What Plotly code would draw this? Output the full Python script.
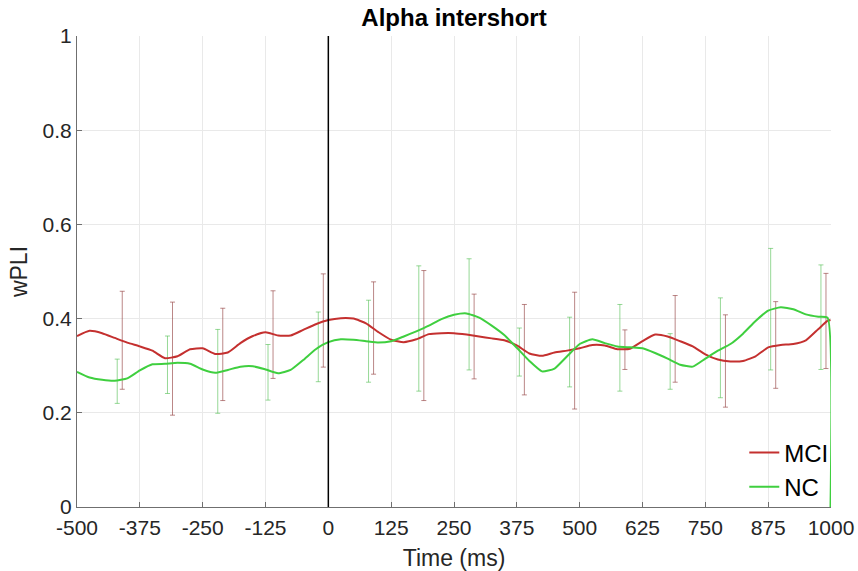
import plotly.graph_objects as go

# ---- data ----
time_ms = [-500, -475, -450, -425, -400, -375, -350, -325, -300, -275, -250, -225, -200,
           -175, -150, -125, -100, -75, -50, -25, 0, 25, 50, 75, 100, 125, 150, 175, 200,
           225, 250, 275, 300, 325, 350, 375, 400, 425, 450, 475, 500, 525, 550, 575, 600,
           625, 650, 675, 700, 725, 750, 775, 800, 825, 850, 875, 900, 925, 950, 975, 993, 999]

mci_wpli = [0.363, 0.374, 0.369, 0.359, 0.349, 0.341, 0.332, 0.316, 0.320, 0.335, 0.337, 0.325, 0.328,
            0.348, 0.363, 0.371, 0.364, 0.364, 0.376, 0.388, 0.397, 0.401, 0.400, 0.390, 0.371, 0.355,
            0.350, 0.356, 0.367, 0.369, 0.369, 0.366, 0.362, 0.358, 0.354, 0.343, 0.326, 0.321, 0.328,
            0.332, 0.337, 0.344, 0.343, 0.335, 0.336, 0.352, 0.366, 0.362, 0.352, 0.341, 0.324, 0.313,
            0.309, 0.310, 0.320, 0.339, 0.344, 0.346, 0.354, 0.378, 0.395, 0.397]

nc_wpli = [0.287, 0.275, 0.270, 0.268, 0.273, 0.290, 0.303, 0.304, 0.306, 0.304, 0.292, 0.285, 0.291,
           0.298, 0.299, 0.292, 0.284, 0.291, 0.312, 0.335, 0.350, 0.356, 0.355, 0.352, 0.349, 0.352,
           0.362, 0.373, 0.385, 0.399, 0.408, 0.411, 0.402, 0.385, 0.365, 0.338, 0.310, 0.288, 0.294,
           0.320, 0.346, 0.356, 0.348, 0.341, 0.339, 0.337, 0.327, 0.315, 0.302, 0.298, 0.315, 0.332,
           0.346, 0.368, 0.395, 0.417, 0.424, 0.420, 0.409, 0.404, 0.402, 0.0]

mci_bar_time = [-410, -310, -210, -110, -10, 90, 190, 290, 390, 490, 590, 690, 790, 890, 990]
mci_bar_mean = [0.354, 0.315, 0.324, 0.366, 0.396, 0.380, 0.364, 0.362, 0.334, 0.332, 0.334, 0.357, 0.310, 0.344, 0.395]
mci_bar_err = [0.104, 0.120, 0.098, 0.093, 0.099, 0.098, 0.138, 0.090, 0.096, 0.124, 0.042, 0.092, 0.098, 0.092, 0.101]

nc_bar_time = [-420, -320, -220, -120, -20, 80, 180, 280, 380, 480, 580, 680, 780, 880, 980]
nc_bar_mean = [0.267, 0.302, 0.288, 0.286, 0.340, 0.352, 0.379, 0.409, 0.329, 0.329, 0.338, 0.309, 0.338, 0.420, 0.403]
nc_bar_err = [0.047, 0.061, 0.089, 0.059, 0.074, 0.087, 0.133, 0.118, 0.051, 0.074, 0.092, 0.059, 0.106, 0.129, 0.111]

x_ticks = [-500, -375, -250, -125, 0, 125, 250, 375, 500, 625, 750, 875, 1000]
y_ticks = [0, 0.2, 0.4, 0.6, 0.8, 1]
y_tick_labels = ["0", "0.2", "0.4", "0.6", "0.8", "1"]

# ---- styles ----
MCI_LINE = "#c4302f"
NC_LINE = "#3fcf3f"
MCI_BAR = "rgba(150,70,70,0.65)"
NC_BAR = "rgba(80,190,80,0.6)"
FONT = "Liberation Sans, Arial, Helvetica, sans-serif"

fig = go.Figure()

fig.add_trace(go.Scatter(
    x=mci_bar_time, y=mci_bar_mean, mode="markers",
    marker=dict(size=0.1, color="rgba(0,0,0,0)"),
    error_y=dict(type="data", array=mci_bar_err, color=MCI_BAR, thickness=1, width=2.5),
    showlegend=False, hoverinfo="skip"))
fig.add_trace(go.Scatter(
    x=nc_bar_time, y=nc_bar_mean, mode="markers",
    marker=dict(size=0.1, color="rgba(0,0,0,0)"),
    error_y=dict(type="data", array=nc_bar_err, color=NC_BAR, thickness=1, width=2.5),
    showlegend=False, hoverinfo="skip"))

fig.add_trace(go.Scatter(
    x=time_ms, y=mci_wpli, mode="lines", name="MCI",
    line=dict(color=MCI_LINE, width=2, shape="spline", smoothing=0.5, simplify=False)))
fig.add_trace(go.Scatter(
    x=time_ms, y=nc_wpli, mode="lines", name="NC",
    line=dict(color=NC_LINE, width=2, shape="spline", smoothing=0.5, simplify=False)))

fig.add_vline(x=0, line=dict(color="black", width=1.5))

fig.update_layout(
    width=858, height=571,
    margin=dict(l=77, r=27, t=36, b=64, autoexpand=False),
    paper_bgcolor="white", plot_bgcolor="white",
    font=dict(family=FONT, size=21, color="#262626"),
    title=dict(text="<b>Alpha intershort</b>", x=(77 + 831) / 2 / 858, xanchor="center",
               y=1 - 18 / 571, yanchor="middle", font=dict(size=24, color="black")),
    legend=dict(x=0.885, xanchor="left", y=-0.005, yanchor="bottom",
                bgcolor="rgba(255,255,255,0)", font=dict(size=24, color="black"),
                itemwidth=30),
    showlegend=True,
)

fig.update_xaxes(
    range=[-500, 1000], tickvals=x_ticks, ticktext=[str(v) for v in x_ticks],
    showgrid=True, gridcolor="#e9e9e9", gridwidth=1, zeroline=False,
    showline=True, linecolor="#6f6f6f", linewidth=1,
    ticks="inside", ticklen=5, tickcolor="#6f6f6f", ticklabelstandoff=2,
    tickfont=dict(size=21, color="#262626"), automargin=False,
    title=dict(text="Time (ms)", font=dict(size=23, color="#262626"), standoff=14),
)
fig.update_yaxes(
    range=[0, 1], tickvals=y_ticks, ticktext=y_tick_labels,
    showgrid=True, gridcolor="#e9e9e9", gridwidth=1, zeroline=False,
    showline=True, linecolor="#6f6f6f", linewidth=1,
    ticks="inside", ticklen=5, tickcolor="#6f6f6f",
    tickfont=dict(size=21, color="#262626"), automargin=False,
    title=dict(text="wPLI", font=dict(size=23, color="#262626"), standoff=8),
)

fig.write_html("out.html")
